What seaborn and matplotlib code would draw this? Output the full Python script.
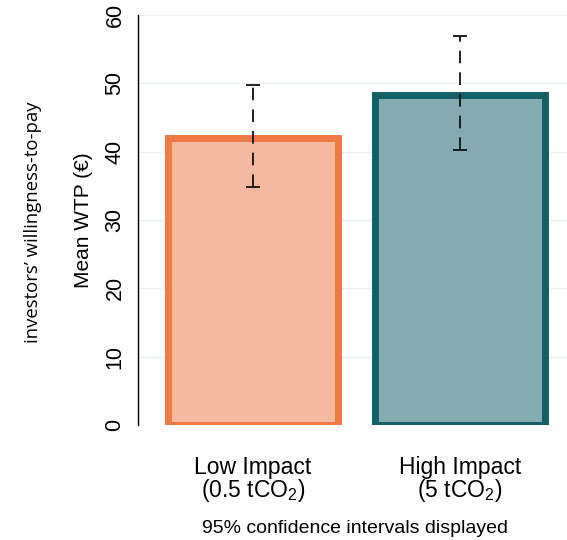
import matplotlib.pyplot as plt
import pandas as pd
import seaborn as sns

categories = ['Low Impact\n(0.5 tCO$_2$)', 'High Impact\n(5 tCO$_2$)']
mean_wtp = [42.0, 48.3]
ci_low = [34.9, 40.3]
ci_high = [49.8, 57.0]
fill_colors = ['#F5B9A0', '#84ABAF']
edge_colors = ['#EF7A48', '#135F66']

df = pd.DataFrame({'group': categories, 'wtp': mean_wtp})

sns.set_style('white')
plt.rcParams['font.family'] = ['Liberation Sans', 'DejaVu Sans']
plt.rcParams['text.color'] = 'black'
plt.rcParams['axes.labelcolor'] = 'black'
plt.rcParams['xtick.color'] = 'black'
plt.rcParams['ytick.color'] = 'black'
plt.rcParams['mathtext.fontset'] = 'custom'
plt.rcParams['mathtext.rm'] = 'Liberation Sans'
plt.rcParams['mathtext.it'] = 'Liberation Sans:italic'

fig = plt.figure(figsize=(5.67, 5.4), dpi=100)
ax = fig.add_axes([0.2434, 0.213, 0.7566, 0.759])

sns.barplot(data=df, x='group', y='wtp', hue='group', palette=fill_colors,
            saturation=1, errorbar=None, width=0.82, legend=False, ax=ax)
for bar, ec in zip(ax.patches, edge_colors):
    bar.set_edgecolor(ec)
    bar.set_linewidth(5)

x = range(len(categories))
lo = [m - l for m, l in zip(mean_wtp, ci_low)]
hi = [h - m for m, h in zip(mean_wtp, ci_high)]
eb = ax.errorbar(x, mean_wtp, yerr=[lo, hi], fmt='none', ecolor='#111111',
                 elinewidth=1.3, capsize=5, capthick=1.3)
eb[2][0].set_linestyle((0, (7, 5)))

ax.set_xlim(-0.556, 1.517)
ax.set_ylim(0, 60)
ax.set_yticks(range(0, 61, 10))
ax.yaxis.grid(True, color='#E8F0F4', linewidth=1)
ax.set_axisbelow(True)
for s in ['top', 'right', 'bottom']:
    ax.spines[s].set_visible(False)
ax.spines['left'].set_color('black')
ax.spines['left'].set_linewidth(1)
ax.tick_params(axis='y', direction='out', length=6, width=1, color='black',
               labelsize=15.5, pad=3)
plt.setp(ax.get_yticklabels(), rotation=90, va='center')
ax.tick_params(axis='x', length=0, labelsize=16.5, pad=22)
plt.setp(ax.get_xticklabels(), linespacing=0.9)
ax.set_xlabel('')
ax.set_ylabel('Mean WTP (€)', fontsize=15, labelpad=8)

fig.text(0.058, 0.589, 'investors\u2019 willingness-to-pay', rotation=90,
         ha='center', va='center', fontsize=13.3, family=['Open Sans', 'DejaVu Sans'])
fig.text(0.626, 0.022, '95% confidence intervals displayed', ha='center',
         va='center', fontsize=14)

plt.savefig('out.png', dpi=100)
